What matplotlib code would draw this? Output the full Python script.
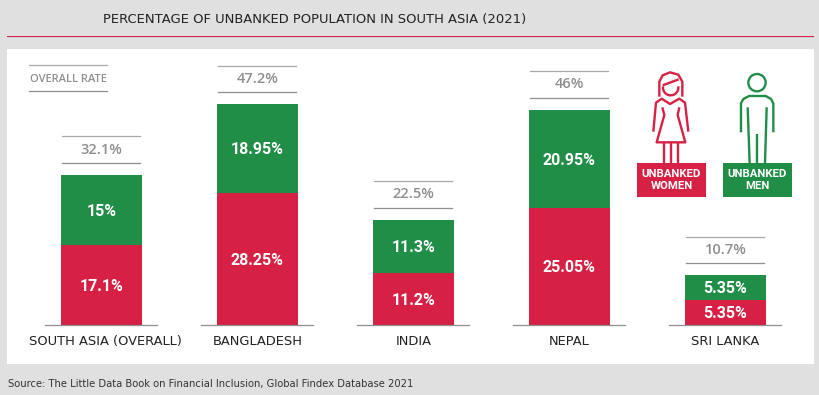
import numpy as np
import matplotlib.pyplot as plt
from matplotlib.lines import Line2D
from matplotlib.patches import Circle, Rectangle, Arc

plt.rcParams['font.family'] = ['DejaVu Sans']

categories = ['SOUTH ASIA (OVERALL)', 'BANGLADESH', 'INDIA', 'NEPAL', 'SRI LANKA']
women = [17.1, 28.25, 11.2, 25.05, 5.35]
men = [15, 18.95, 11.3, 20.95, 5.35]
overall = [32.1, 47.2, 22.5, 46, 10.7]
women_labels = ['17.1%', '28.25%', '11.2%', '25.05%', '5.35%']
men_labels = ['15%', '18.95%', '11.3%', '20.95%', '5.35%']
overall_labels = ['32.1%', '47.2%', '22.5%', '46%', '10.7%']

RED = '#d62044'
GREEN = '#218e47'
BG = '#e0e0e0'
GREY = '#8f8f8f'
W, H = 820, 395
BOLD = ['Roboto', 'DejaVu Sans']
SEMI = ['Open Sans', 'DejaVu Sans']


def ax_rect(x0, y0, x1, y1):
    return [x0 / W, 1 - y1 / H, (x1 - x0) / W, (y1 - y0) / H]


fig = plt.figure(figsize=(W / 100, H / 100), dpi=100, facecolor=BG)

# overlay in pixels for the furniture and icons
deco = fig.add_axes([0, 0, 1, 1], zorder=3)
deco.set_xlim(0, W)
deco.set_ylim(H, 0)
deco.axis('off')

# panel is the bar axes, 156px per category and 4.68px per percent
ax = fig.add_axes(ax_rect(7, 49, 814, 364), zorder=2, facecolor='white')
ax.set_xlim((7 - 101.5) / 156, (814 - 101.5) / 156)
ax.set_ylim(-39 / 4.68, 276 / 4.68)
for s in ax.spines.values():
    s.set_visible(False)
ax.set_xticks([])
ax.set_yticks([])

x = np.arange(len(categories))
ax.bar(x, women, width=81 / 156, color=RED, zorder=2)
ax.bar(x, men, width=81 / 156, bottom=women, color=GREEN, zorder=2)

label_shift = [3.5, 0.5, 0, 0, 0]
for i in x:
    ax.plot([i - 56 / 156, i + 56 / 156], [0, 0], color=GREY, lw=0.9, zorder=3)
    ax.text(i, women[i] / 2 - 0.3, women_labels[i], color='white', ha='center', va='center',
            fontsize=11.5, fontweight='bold', family=BOLD, zorder=4)
    ax.text(i, women[i] + men[i] / 2 - 0.3, men_labels[i], color='white', ha='center', va='center',
            fontsize=11.5, fontweight='bold', family=BOLD, zorder=4)
    ax.text(i + label_shift[i] / 156, -3.5, categories[i], color='#222222', ha='center', va='center',
            fontsize=9.4)
    # overall rate between two rules
    ax.plot([i - 39 / 156, i + 39 / 156], [overall[i] + 2.6] * 2, color=GREY, lw=0.9)
    ax.plot([i - 39 / 156, i + 39 / 156], [overall[i] + 8.2] * 2, color='#a8a8a8', lw=0.9)
    ax.text(i, overall[i] + 5.4, overall_labels[i], color=GREY, ha='center', va='center',
            fontsize=10.5, fontweight='semibold', family=SEMI)

# header and source
deco.add_patch(Rectangle((7, 36), 807, 1, color=RED, lw=0))
deco.add_patch(Rectangle((7, 37), 807, 1, color='#cfcfcf', lw=0))
deco.text(103, 19, 'PERCENTAGE OF UNBANKED POPULATION IN SOUTH ASIA (2021)', color='#222222',
          ha='left', va='center', fontsize=9.45)
deco.text(8, 384, 'Source: The Little Data Book on Financial Inclusion, Global Findex Database 2021',
          color='#333333', ha='left', va='center', fontsize=7.2)

# overall rate key
deco.plot([29, 107], [65, 65], color='#a8a8a8', lw=0.9)
deco.plot([29, 107], [91, 91], color=GREY, lw=0.9)
deco.text(68, 79, 'OVERALL RATE', color=GREY, ha='center', va='center', fontsize=8, fontweight='semibold',
          family=SEMI)


def z(points):
    return [p[0] / 3 + 620 for p in points], [p[1] / 3 + 50 for p in points]


def stroke(points, color):
    xs, ys = z(points)
    deco.add_line(Line2D(xs, ys, color=color, lw=1.7, solid_joinstyle='round', solid_capstyle='butt'))


# woman
stroke([(118, 140), (118, 95), (128, 76), (150, 67), (175, 74), (187, 95), (187, 140)], RED)
stroke([(128, 106), (176, 88)], RED)
deco.add_patch(Arc((620 + 152 / 3, 50 + 113 / 3), 46 / 3, 46 / 3, theta1=-10, theta2=190, color=RED, lw=1.7))
stroke([(100, 245), (108, 158), (125, 146), (150, 162), (178, 146), (195, 158), (205, 245)], RED)
stroke([(127, 172), (133, 195), (110, 277), (196, 277), (173, 195), (178, 172)], RED)
stroke([(133, 277), (133, 340)], RED)
stroke([(152, 277), (152, 340)], RED)
stroke([(173, 277), (173, 340)], RED)

# man
deco.add_patch(Circle((620 + 411 / 3, 50 + 98 / 3), 26 / 3, fill=False, edgecolor=GREEN, lw=1.7))
stroke([(363, 247), (363, 160), (370, 147), (387, 138), (437, 138), (453, 147), (460, 160), (460, 247)], GREEN)
stroke([(383, 172), (389, 340)], GREEN)
stroke([(440, 172), (435, 340)], GREEN)
stroke([(411, 252), (411, 340)], GREEN)

# legend boxes
deco.add_patch(Rectangle((637, 163), 69, 34, color=RED, lw=0))
deco.add_patch(Rectangle((723, 163), 69, 34, color=GREEN, lw=0))
deco.text(671.5, 180, 'UNBANKED\nWOMEN', color='white', ha='center', va='center', fontsize=8.2,
          fontweight='bold', family=BOLD, linespacing=1.25)
deco.text(757.5, 180, 'UNBANKED\nMEN', color='white', ha='center', va='center', fontsize=8.2,
          fontweight='bold', family=BOLD, linespacing=1.25)

fig.savefig('out.png', dpi=100, facecolor=BG)
